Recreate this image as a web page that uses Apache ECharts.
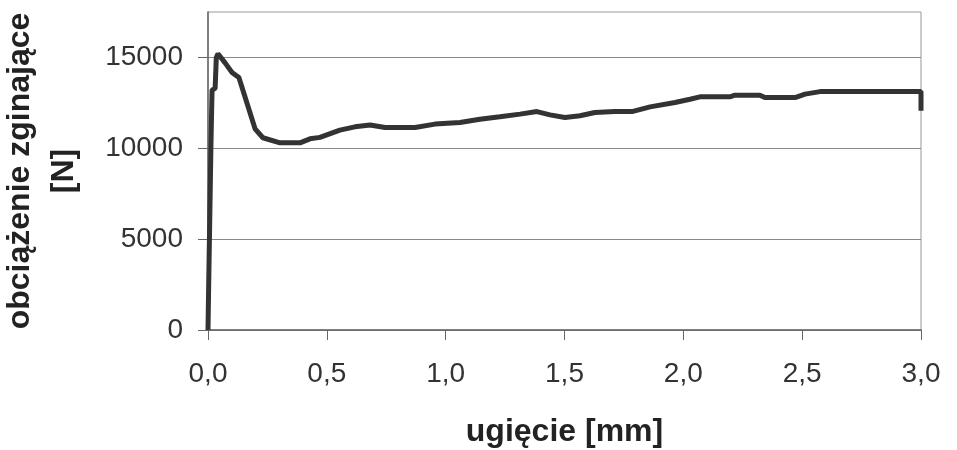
<!DOCTYPE html>
<html>
<head>
<meta charset="utf-8">
<script src="https://cdn.jsdelivr.net/npm/echarts@6/dist/echarts.min.js"></script>
<style>
  html, body { margin: 0; padding: 0; background: #fff; }
  #chart { width: 957px; height: 450px; }
</style>
</head>
<body>
<div id="chart"></div>
<script>
  // ugięcie [mm]
  var deflection = [0.000, 0.003, 0.008, 0.012, 0.017, 0.030, 0.035, 0.042, 0.072, 0.101, 0.130, 0.198, 0.231, 0.303, 0.387, 0.429, 0.471, 0.555, 0.618, 0.682, 0.745, 0.871, 0.955, 1.060, 1.144, 1.228, 1.313, 1.384, 1.439, 1.502, 1.565, 1.628, 1.712, 1.788, 1.860, 1.965, 2.028, 2.070, 2.196, 2.217, 2.322, 2.343, 2.470, 2.512, 2.575, 3.000, 3.000];
  // obciążenie zginające [N]
  var load = [0, 2600, 6600, 9900, 13200, 13300, 15000, 15200, 14700, 14170, 13890, 11070, 10580, 10300, 10300, 10520, 10600, 11000, 11180, 11280, 11140, 11140, 11330, 11420, 11600, 11730, 11880, 12020, 11840, 11690, 11790, 11970, 12020, 12030, 12280, 12520, 12700, 12830, 12830, 12920, 12920, 12790, 12790, 12980, 13120, 13120, 12060];
  var yTicks = [0, 5000, 10000, 15000];

  var points = deflection.map(function (x, i) { return [x, load[i]]; });

  var chart = echarts.init(document.getElementById('chart'));
  var option = {
    animation: false,
    backgroundColor: '#fff',
    grid: {
      left: 208, right: 36, top: 12, bottom: 120,
      outerBoundsMode: 'none',
      containLabel: false,
      show: true, borderColor: '#999', borderWidth: 1
    },
    xAxis: {
      type: 'value',
      min: 0, max: 3, interval: 0.5,
      name: 'ugięcie [mm]',
      nameLocation: 'middle',
      nameGap: 86,
      nameTextStyle: { fontFamily: 'Liberation Sans', fontWeight: 'bold', fontSize: 32, color: '#222' },
      axisLine: { lineStyle: { color: '#666', width: 1.5 } },
      axisTick: { length: 10, lineStyle: { color: '#666' } },
      axisLabel: {
        margin: 30, fontFamily: 'Liberation Sans', fontSize: 28, color: '#333',
        formatter: function (v) { return v.toFixed(1).replace('.', ','); }
      },
      splitLine: { show: false }
    },
    yAxis: {
      type: 'value',
      min: 0, max: 17500, interval: 5000,
      name: 'obciążenie zginające\n[N]',
      nameLocation: 'middle',
      nameRotate: 90,
      nameGap: 122,
      nameTextStyle: { fontFamily: 'Liberation Sans', fontWeight: 'bold', fontSize: 32, lineHeight: 44, color: '#222', align: 'center' },
      axisLine: { show: true, lineStyle: { color: '#666', width: 1.5 } },
      axisTick: { show: true, length: 10, customValues: yTicks, lineStyle: { color: '#666' } },
      axisLabel: {
        margin: 25, fontFamily: 'Liberation Sans', fontSize: 28, color: '#333', customValues: yTicks,
        formatter: function (v) { return String(v); }
      },
      splitLine: { lineStyle: { color: '#8a8a8a', width: 1.2 } }
    },
    series: [{
      type: 'line',
      data: points,
      showSymbol: false,
      lineStyle: { color: '#333', width: 5 },
      z: 5
    }]
  };
  chart.setOption(option);
</script>
</body>
</html>
